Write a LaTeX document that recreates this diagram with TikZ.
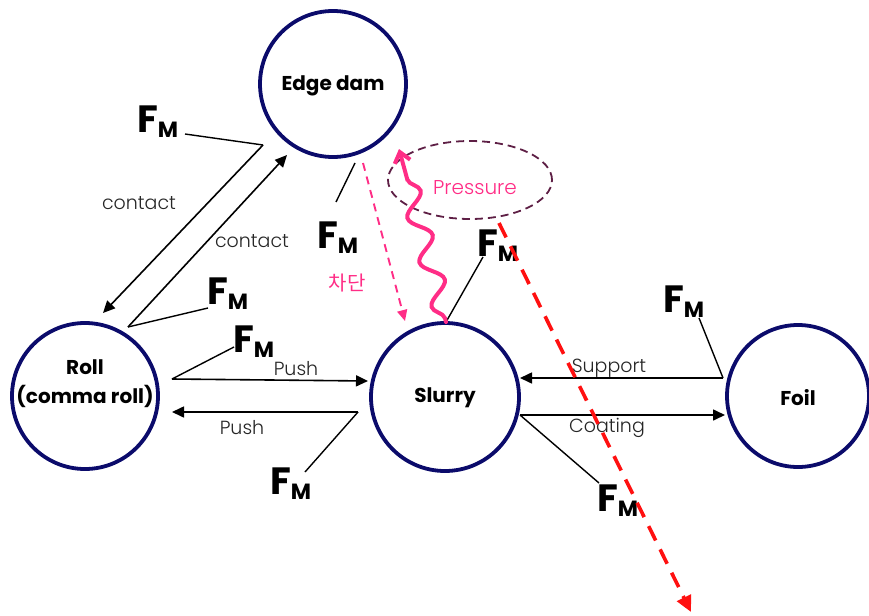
\documentclass[tikz,border=0pt]{standalone}
\usepackage{fontspec}
\setmainfont{Poppins}
\newfontfamily\boldsans{Poppins}[UprightFont=* Bold]
\newfontfamily\lightsans{Poppins}[UprightFont=* Light]
\newfontfamily\krfont{Noto Sans CJK KR}
\usetikzlibrary{arrows.meta,decorations.pathmorphing,shapes.geometric}
\definecolor{navy}{HTML}{0B0B6B}
\definecolor{hotpink}{HTML}{FF2D86}
\definecolor{plum}{HTML}{5E1F45}
\definecolor{redline}{HTML}{FF1010}
\newcommand{\fmtext}{{\boldsans\fontsize{38}{38}\selectfont F\raisebox{-5pt}{\fontsize{22}{22}\selectfont M}}}
\tikzset{
  body/.style={circle, draw=navy, line width=3.8pt, inner sep=0pt,
    font=\boldsans\fontsize{20}{29}\selectfont, align=center},
  bodytext/.style={inner sep=0pt, font=\boldsans\fontsize{20}{29}\selectfont, align=center},
  force/.style={anchor=base west, inner sep=0pt},
  lbl/.style={inner sep=0pt, font=\lightsans\fontsize{19}{19}\selectfont, text=black!85},
  flow/.style={line width=1.6pt, -{Triangle[length=12pt,width=11pt]}},
  tie/.style={line width=1.4pt},
}
\begin{document}
\begin{tikzpicture}[x=1pt,y=-1pt]
\useasboundingbox (0,0) rectangle (869,615);

% bodies
\node[body, minimum size=146pt] (edge) at (333,84) {};
\node[bodytext] (edgetxt) at (333,86) {Edge dam};
\node[body, minimum size=146pt] (roll) at (85,396) {};
\node[bodytext] (rolltxt) at (85,384) {Roll\\(comma roll)};
\node[body, minimum size=148pt] (slurry) at (445,397) {};
\node[bodytext] (slurrytxt) at (445,398) {Slurry};
\node[body, minimum size=142pt] (foil) at (798,396) {};
\node[bodytext] (foiltxt) at (798,398) {Foil};

% end points of the connectors
\coordinate (c1s) at (263,145);
\coordinate (c1e) at (103,313);
\coordinate (c2s) at (128,327);
\coordinate (c2e) at (287,155);
\coordinate (p1s) at (172,379);
\coordinate (p1e) at (368,381);
\coordinate (p2s) at (358,412);
\coordinate (p2e) at (172,412);
\coordinate (sups) at (723,378);
\coordinate (supe) at (520,378);
\coordinate (coas) at (520,415);
\coordinate (coae) at (725,415);
\coordinate (eb) at (355,163);
\coordinate (st) at (446,322);
\coordinate (bs) at (363,163);
\coordinate (be) at (405,321);
\coordinate (wt) at (399,149);

% force labels and their leader lines
\node[force] (fa) at (137,132) {\fmtext};
\node[force] (fb) at (317,248) {\fmtext};
\node[force] (fc) at (207,304) {\fmtext};
\node[force] (fd) at (233,352) {\fmtext};
\node[force] (fe) at (270,494) {\fmtext};
\node[force] (ff) at (477,256) {\fmtext};
\node[force] (fg) at (663,312) {\fmtext};
\node[force] (fh) at (597,511) {\fmtext};

\draw[tie] (185,134) -- (c1s);
\draw[tie] (eb) -- (336,202);
\draw[tie] (c2s) -- (208,308);
\draw[tie] (p1s) -- (234,347);
\draw[tie] (p2s) -- (305,472);
\draw[tie] (st) -- (483,257);
\draw[tie] (sups) -- (699,318);
\draw[tie] (coas) -- (599,483);

% interactions
\draw[flow] (c1s) -- (c1e);
\draw[flow] (c2s) -- (c2e);
\draw[flow] (p1s) -- (p1e);
\draw[flow] (p2s) -- (p2e);
\draw[flow] (sups) -- (supe);
\draw[flow] (coas) -- (coae);

\node[lbl] (l1) at (139,203) {contact};
\node[lbl] (l2) at (252,241) {contact};
\node[lbl] (l3) at (296,369) {Push};
\node[lbl] (l4) at (242,428) {Push};
\node[lbl] (l5) at (609,368) {Support};
\node[lbl] (l6) at (607,428) {Coating};

% pressure region
\node[ellipse, draw=plum, line width=1.8pt, dash pattern=on 8pt off 5pt,
      minimum width=164pt, minimum height=78pt, inner sep=0pt] (press) at (470,180) {};
\node[inner sep=0pt, font=\lightsans\fontsize{20}{20}\selectfont, text=hotpink] (pl) at (475,188) {Pressure};

% blocking arrow
\draw[hotpink, line width=1.9pt, dash pattern=on 8pt off 6pt,
      -{Triangle[length=11pt,width=10pt]}] (bs) -- (be);
\node[inner sep=0pt, font=\krfont\fontsize{20}{20}\selectfont, text=hotpink] (blk) at (347,283) {차단};

% pressure wave
\draw[hotpink, line width=4pt, line cap=round, -{Straight Barb[length=10pt,width=16pt]},
      decorate, decoration={snake, amplitude=10pt, segment length=46pt,
      pre length=4pt, post length=14pt}] (st) -- (wt);

% red dashed arrow
\coordinate (rs) at (499,223);
\coordinate (re) at (691,612);
\draw[redline, line width=3.6pt, dash pattern=on 16pt off 10pt,
      -{Triangle[length=16pt,width=15pt]}] (rs) -- (re);

\end{tikzpicture}
\end{document}
